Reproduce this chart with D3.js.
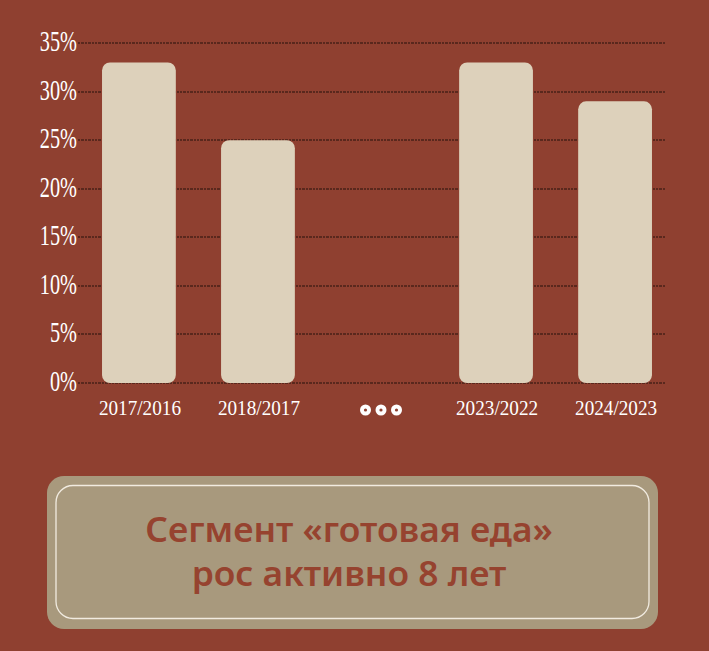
<!DOCTYPE html>
<html lang="ru">
  <head>
    <meta charset="UTF-8" />
    <title>Сегмент «готовая еда»</title>
    <style>
      html, body { margin: 0; padding: 0; background: #8f4030; }
      svg { display: block; }
    </style>
  </head>
  <body>
    <div class="chart"></div>
    <script src="https://d3js.org/d3.v7.min.js"></script>
    <script>
      // данные ==========================================================
      const categories = ["2017/2016", "2018/2017", "…", "2023/2022", "2024/2023"];
      const values = [33, 25, null, 33, 29];
      const yTicks = [0, 5, 10, 15, 20, 25, 30, 35];
      const captionLines = ["Сегмент «готовая еда»", "рос активно 8 лет"];

      const W = 709, H = 651;
      const bg = "#8f4030";

      const svg = d3.select(".chart").append("svg")
        .attr("width", W)
        .attr("height", H);

      svg.append("rect").attr("width", W).attr("height", H).attr("fill", bg);

      // шкалы
      const x = d3.scaleBand()
        .domain(categories)
        .range([80, 674])
        .paddingInner(0.38)
        .paddingOuter(0.185);

      const y = d3.scaleLinear().domain([0, 35]).range([383, 43]);

      // сетка (пунктир)
      svg.append("g")
        .selectAll("line")
        .data(yTicks)
        .enter()
        .append("line")
        .attr("x1", 78)
        .attr("x2", 665)
        .attr("y1", (d) => Math.round(y(d)))
        .attr("y2", (d) => Math.round(y(d)))
        .attr("stroke", "#5a281d")
        .attr("stroke-width", 2)
        .attr("stroke-dasharray", "2.3,1.1")
        .attr("shape-rendering", "crispEdges");

      // подписи оси Y
      svg.append("g")
        .selectAll("text")
        .data(yTicks)
        .enter()
        .append("text")
        .attr("transform", (d) => `translate(77,${y(d) + 8}) scale(0.7,1)`)
        .attr("text-anchor", "end")
        .attr("font-family", "'Liberation Serif', serif")
        .attr("font-size", 29)
        .attr("fill", "#ffffff")
        .text((d) => d + "%");

      // столбцы
      svg.append("g")
        .selectAll("rect")
        .data(categories.filter((c, i) => values[i] != null))
        .enter()
        .append("rect")
        .attr("x", (d) => x(d))
        .attr("y", (d) => y(values[categories.indexOf(d)]))
        .attr("width", x.bandwidth())
        .attr("height", (d) => y(0) - y(values[categories.indexOf(d)]))
        .attr("rx", 8)
        .attr("fill", "#ddd1bb");

      // подписи оси X
      svg.append("g")
        .selectAll("text")
        .data(categories.filter((c, i) => values[i] != null))
        .enter()
        .append("text")
        .attr("transform", (d) => `translate(${x(d) + x.bandwidth() / 2 + 1},415) scale(0.96,1)`)
        .attr("text-anchor", "middle")
        .attr("font-family", "'Liberation Serif', serif")
        .attr("font-size", 20)
        .attr("fill", "#ffffff")
        .text((d) => d);

      // многоточие вместо пропущенных лет
      const gap = categories[values.indexOf(null)];
      const gx = x(gap) + x.bandwidth() / 2 + 4;
      const dots = svg.append("g")
        .selectAll("g")
        .data([-1, 0, 1])
        .enter()
        .append("g")
        .attr("transform", (d) => `translate(${gx + d * 15.5},410)`);
      dots.append("circle").attr("r", 5.5).attr("fill", "#ffffff");
      dots.append("circle").attr("r", 1.6).attr("fill", bg);

      // подпись-плашка
      svg.append("rect")
        .attr("x", 47)
        .attr("y", 476)
        .attr("width", 611)
        .attr("height", 153)
        .attr("rx", 17)
        .attr("fill", "#a8997d");

      svg.append("rect")
        .attr("x", 56)
        .attr("y", 485.5)
        .attr("width", 593)
        .attr("height", 133)
        .attr("rx", 17)
        .attr("fill", "none")
        .attr("stroke", "#f1ebe0")
        .attr("stroke-width", 1.3);

      svg.append("g")
        .selectAll("text")
        .data(captionLines)
        .enter()
        .append("text")
        .attr("transform", (d, i) => `translate(349,${542 + i * 44}) scale(1.04,1)`)
        .attr("text-anchor", "middle")
        .attr("font-family", "'Noto Sans', sans-serif")
        .attr("font-weight", 600)
        .attr("font-size", 34)
        .attr("fill", "#96432f")
        .text((d) => d);
    </script>
  </body>
</html>
